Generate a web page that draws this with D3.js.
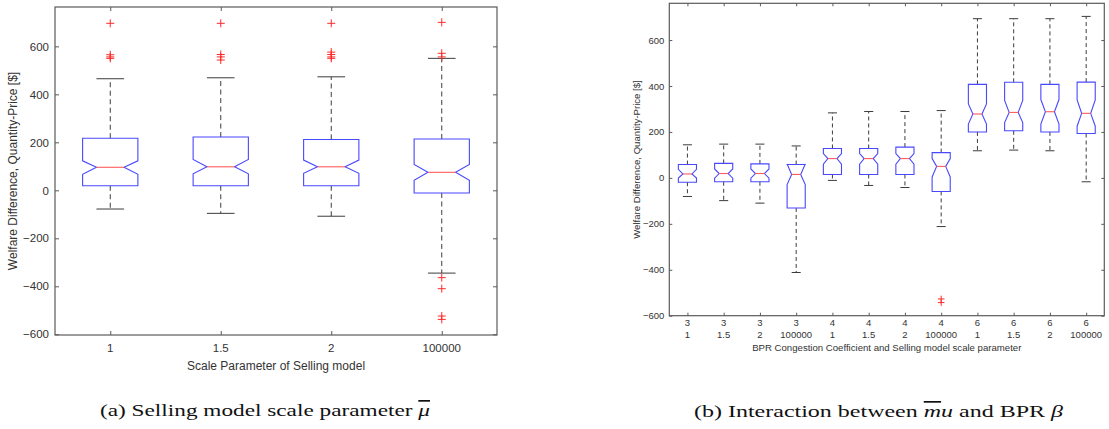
<!DOCTYPE html>
<html>
<head>
<meta charset="utf-8">
<script src="https://cdn.jsdelivr.net/npm/d3@7/dist/d3.min.js"></script>
<style>
  html, body { margin: 0; padding: 0; background: #fff; }
  svg { display: block; }
</style>
</head>
<body>
<svg id="fig" width="1109" height="429"></svg>
<script>
// ---- Panel (a): welfare difference by selling-model scale parameter ----
const aCategories = ["1", "1.5", "2", "100000"];
const aQ1        = [19, 19, 19, -11];
const aMedian    = [96, 98, 98, 75];
const aQ3        = [217, 222, 212, 214];
const aNotchLo   = [67, 69, 71, 42];
const aNotchHi   = [123, 129, 126, 108];
const aWhiskLo   = [-78, -96, -108, -345];
const aWhiskHi   = [465, 469, 473, 550];
const aOutliers  = [
  [696, 565, 556, 550],
  [696, 566, 556, 543],
  [696, 576, 566, 556, 550],
  [700, 571, 556, -364, -410, -524, -538]
];
const aYTicks = [-600, -400, -200, 0, 200, 400, 600];

// ---- Panel (b): interaction of BPR beta and selling-model scale ----
const bBeta      = ["3", "3", "3", "3", "4", "4", "4", "4", "6", "6", "6", "6"];
const bMu        = ["1", "1.5", "2", "100000", "1", "1.5", "2", "100000", "1", "1.5", "2", "100000"];
const bQ1        = [-19, -17, -17, -131, 15, 15, 15, -59, 200, 205, 200, 193];
const bMedian    = [17, 19, 19, 15, 84, 84, 84, 50, 278, 285, 288, 281];
const bQ3        = [58, 63, 61, 58, 128, 128, 134, 110, 407, 416, 407, 417];
const bNotchLo   = [-1, -1, -1, -29, 60, 60, 60, 4, 234, 241, 234, 225];
const bNotchHi   = [37, 39, 39, 60, 106, 106, 106, 84, 322, 337, 341, 339];
const bWhiskLo   = [-81, -99, -110, -412, -11, -33, -42, -212, 118, 121, 118, -17];
const bWhiskHi   = [144, 147, 147, 139, 283, 289, 289, 293, 693, 693, 693, 703];
const bOutliers  = [[], [], [], [], [], [], [], [-527, -543], [], [], [], []];
const bYTicks = [-600, -400, -200, 0, 200, 400, 600];

const svg = d3.select("#fig");
const SANS = "'Liberation Sans', Arial, Helvetica, sans-serif";
const SERIF = "'Liberation Serif', 'Times New Roman', serif";

function boxPanel(cfg) {
  const n = cfg.q1.length;
  const g = svg.append("g");
  const x = d3.scaleLinear().domain([0.5, n + 0.5]).range([cfg.left, cfg.right]);
  const y = d3.scaleLinear().domain(cfg.yDomain).range([cfg.bottom, cfg.top]);
  const idx = d3.range(n);
  const step = x(2) - x(1);
  const hw = step * 0.25;        // half of the box width (box = half a category step)

  // axes: ticks point inward on all four sides
  const yAxis = g.append("g").attr("transform", `translate(${cfg.left},0)`)
    .call(d3.axisLeft(y).tickValues(cfg.yTicks).tickSize(-cfg.tick).tickPadding(cfg.yPad));
  g.append("g").attr("transform", `translate(${cfg.right},0)`)
    .call(d3.axisRight(y).tickValues(cfg.yTicks).tickSize(-cfg.tick).tickFormat(""));
  g.append("g").attr("transform", `translate(0,${cfg.bottom})`)
    .call(d3.axisBottom(x).tickValues(idx.map(i => i + 1)).tickSize(-cfg.tick).tickFormat(""));
  g.append("g").attr("transform", `translate(0,${cfg.top})`)
    .call(d3.axisTop(x).tickValues(idx.map(i => i + 1)).tickSize(-cfg.tick).tickFormat(""));
  g.selectAll(".domain").remove();
  g.selectAll(".tick line").attr("stroke", "#5a5a5a");
  yAxis.selectAll("text").style("font-family", SANS).style("font-size", cfg.fs + "px").attr("fill", "#333");

  // category labels (one or two lines under each tick)
  const lab = g.append("g").selectAll("text").data(idx).join("text")
    .attr("x", i => x(i + 1))
    .attr("y", cfg.bottom + cfg.xPad)
    .attr("text-anchor", "middle")
    .style("font-family", SANS).style("font-size", cfg.fs + "px").attr("fill", "#333");
  cfg.xLabels.forEach((arr, k) => {
    lab.append("tspan").attr("x", i => x(i + 1)).attr("dy", k === 0 ? "0.71em" : cfg.lineGap + "px")
      .text(i => arr[i]);
  });

  // frame
  g.append("rect").attr("x", cfg.left).attr("y", cfg.top)
    .attr("width", cfg.right - cfg.left).attr("height", cfg.bottom - cfg.top)
    .attr("fill", "none").attr("stroke", "#5a5a5a").attr("stroke-width", 1.2);

  const boxes = g.append("g").selectAll("g").data(idx).join("g");

  // dashed whiskers
  boxes.append("line").attr("x1", i => x(i + 1)).attr("x2", i => x(i + 1))
    .attr("y1", i => y(cfg.q3[i])).attr("y2", i => y(cfg.whHi[i]))
    .attr("stroke", "#3c3c3c").attr("stroke-dasharray", cfg.dash);
  boxes.append("line").attr("x1", i => x(i + 1)).attr("x2", i => x(i + 1))
    .attr("y1", i => y(cfg.q1[i])).attr("y2", i => y(cfg.whLo[i]))
    .attr("stroke", "#3c3c3c").attr("stroke-dasharray", cfg.dash);
  // whisker caps
  ["whHi", "whLo"].forEach(k => {
    boxes.append("line").attr("x1", i => x(i + 1) - hw / 2).attr("x2", i => x(i + 1) + hw / 2)
      .attr("y1", i => y(cfg[k][i])).attr("y2", i => y(cfg[k][i]))
      .attr("stroke", "#3c3c3c");
  });

  // notched box
  boxes.append("path")
    .attr("d", i => {
      const c = x(i + 1);
      const pts = [
        [c - hw, y(cfg.q1[i])], [c - hw, y(cfg.nLo[i])], [c - hw / 2, y(cfg.med[i])],
        [c - hw, y(cfg.nHi[i])], [c - hw, y(cfg.q3[i])], [c + hw, y(cfg.q3[i])],
        [c + hw, y(cfg.nHi[i])], [c + hw / 2, y(cfg.med[i])], [c + hw, y(cfg.nLo[i])],
        [c + hw, y(cfg.q1[i])]
      ];
      return d3.line()(pts) + "Z";
    })
    .attr("fill", "none").attr("stroke", "#4848ff").attr("stroke-width", 1.1);
  // median spans the notch waist
  boxes.append("line").attr("x1", i => x(i + 1) - hw / 2).attr("x2", i => x(i + 1) + hw / 2)
    .attr("y1", i => y(cfg.med[i])).attr("y2", i => y(cfg.med[i]))
    .attr("stroke", "#ff5a5a").attr("stroke-width", 1.1);

  // outliers
  const s = cfg.plus;
  boxes.each(function (i) {
    d3.select(this).selectAll("path.out").data(cfg.out[i]).join("path")
      .attr("class", "out")
      .attr("d", v => `M${x(i + 1) - s},${y(v)}H${x(i + 1) + s}M${x(i + 1)},${y(v) - s}V${y(v) + s}`)
      .attr("stroke", "#ff2a2a").attr("stroke-width", 1);
  });

  // axis titles
  g.append("text")
    .attr("transform", `translate(${cfg.yTitleX},${(cfg.top + cfg.bottom) / 2}) rotate(-90)`)
    .attr("text-anchor", "middle")
    .style("font-family", SANS).style("font-size", cfg.titleFs + "px").attr("fill", "#333")
    .text("Welfare Difference, Quantity-Price [$]");
  g.append("text")
    .attr("x", (cfg.left + cfg.right) / 2).attr("y", cfg.xTitleY)
    .attr("text-anchor", "middle")
    .style("font-family", SANS).style("font-size", cfg.titleFs + "px").attr("fill", "#333")
    .text(cfg.xTitle);
}

boxPanel({
  left: 55, right: 497, top: 7, bottom: 335,
  yDomain: [-603, 764], yTicks: aYTicks,
  q1: aQ1, med: aMedian, q3: aQ3, nLo: aNotchLo, nHi: aNotchHi,
  whLo: aWhiskLo, whHi: aWhiskHi, out: aOutliers,
  xLabels: [aCategories], lineGap: 11,
  tick: 4, yPad: 6, xPad: 9, fs: 11.5, titleFs: 12, plus: 4,
  dash: "5,3.5",
  yTitleX: 17, xTitleY: 370, xTitle: "Scale Parameter of Selling model"
});

boxPanel({
  left: 669.3, right: 1104.3, top: 3.3, bottom: 315.7,
  yDomain: [-600, 760], yTicks: bYTicks,
  q1: bQ1, med: bMedian, q3: bQ3, nLo: bNotchLo, nHi: bNotchHi,
  whLo: bWhiskLo, whHi: bWhiskHi, out: bOutliers,
  xLabels: [bBeta, bMu], lineGap: 11.3,
  tick: 3, yPad: 5, xPad: 4, fs: 9.5, titleFs: 9.6, plus: 3.3,
  dash: "4,3",
  yTitleX: 640, xTitleY: 351, xTitle: "BPR Congestion Coefficient and Selling model scale parameter"
});

// sub-figure captions
const capA = svg.append("text").attr("x", 265).attr("y", 416).attr("text-anchor", "middle")
  .style("font-family", SERIF).style("font-size", "17px").attr("fill", "#111")
  .attr("textLength", 330).attr("lengthAdjust", "spacingAndGlyphs");
capA.append("tspan").text("(a) Selling model scale parameter ");
capA.append("tspan").style("font-style", "italic").style("text-decoration", "overline").text("μ");

const capB = svg.append("text").attr("x", 878.5).attr("y", 417).attr("text-anchor", "middle")
  .style("font-family", SERIF).style("font-size", "17px").attr("fill", "#111")
  .attr("textLength", 369).attr("lengthAdjust", "spacingAndGlyphs");
capB.append("tspan").text("(b) Interaction between ");
capB.append("tspan").style("font-style", "italic").style("text-decoration", "overline").text("m");
capB.append("tspan").style("font-style", "italic").text("u");
capB.append("tspan").text(" and BPR ");
capB.append("tspan").style("font-style", "italic").text("β");
</script>
</body>
</html>
